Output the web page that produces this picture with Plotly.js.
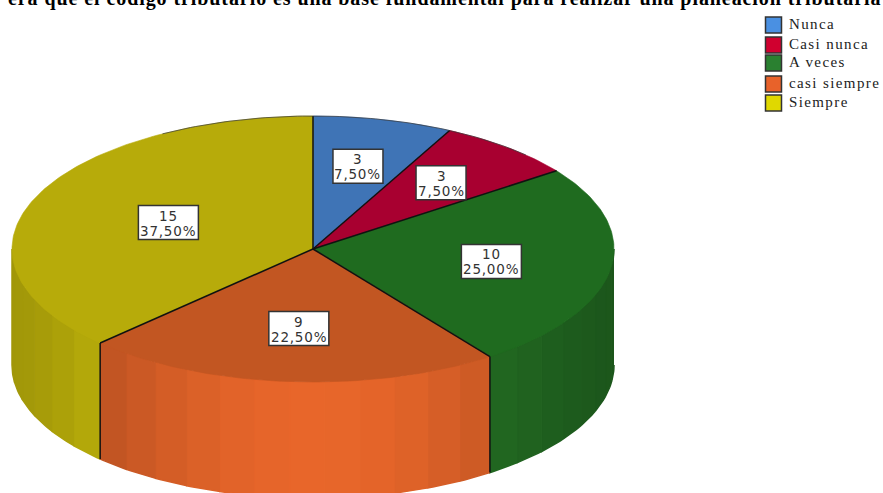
<!DOCTYPE html>
<html><head><meta charset="utf-8">
<script src="https://cdn.plot.ly/plotly-3.0.1.min.js"></script>
<style>html,body{margin:0;padding:0;background:#fff}
.gtitle{letter-spacing:.92px}
.textpoint text{letter-spacing:1.4px}
.annotation-text{letter-spacing:.8px}
</style></head>
<body><div id="chart" style="width:883px;height:493px"></div>
<script>
const categories = ["Nunca","Casi nunca","A veces","casi siempre","Siempre"];
const counts = [3,3,10,9,15];
const percentLabels = ["7,50%","7,50%","25,00%","22,50%","37,50%"];
const topColors = ["#3f74b6","#a80030","#1f6b1f","#c25622","#b7ab0a"];
const sideColors = ["#4a88d0","#c00035","#277826","#e8662a","#e0d20c"];
const legendColors = ["#4a90e2","#d0002f","#2a8030","#e8622a","#e0d800"];
const titleText = "era que el código tributario es una base fundamental para realizar una planeación tributaria";

// pie geometry on a pixel-sized axis
const cx=313, cy=249, rx=301, ry=133, depth=116;
const labelRadius=[.64,.655,.6,.6,.52];
const total=counts.reduce((a,b)=>a+b,0);
const pt=(deg,dy=0,f=1)=>{const r=deg*Math.PI/180;return [cx+rx*f*Math.sin(r),cy-ry*f*Math.cos(r)+dy];};
function arc(a,b,dy=0){const n=Math.max(2,Math.ceil(Math.abs(b-a)));const o=[];for(let i=0;i<=n;i++)o.push(pt(a+(b-a)*i/n,dy));return o;}
const poly=(pts,color,w=.6)=>({type:'scatter',mode:'lines',x:pts.map(p=>p[0]),y:pts.map(p=>p[1]),fill:'toself',fillcolor:color,line:{color:color,width:w},showlegend:false,hoverinfo:'skip'});
const shade=(hex,k)=>{const n=parseInt(hex.slice(1),16);const c=[n>>16,(n>>8)&255,n&255].map(v=>Math.round(v*k));return `rgb(${c.join(',')})`;};

const traces=[],annotations=[],shapes=[];
let start=0;
const slices=counts.map((v,i)=>{const a=start,b=start+v/total*360;start=b;return {a,b,i};});

// front wall, in vertical bands
slices.forEach(s=>{
  const lo=Math.max(s.a,90),hi=Math.min(s.b,270);
  if(hi<=lo) return;
  const step=(hi-lo)/Math.round((hi-lo)/7);
  for(let t=lo;t<hi-1e-6;t+=step){
    const m=t+step/2;
    const k=0.72+0.28*Math.pow(Math.abs(Math.cos(m*Math.PI/180)),3);
    traces.push(poly([...arc(t,t+step),...arc(t+step,t,depth)],shade(sideColors[s.i],k),1.5));
  }
});
// top face
slices.forEach(s=>traces.push(poly([[cx,cy],...arc(s.a,s.b),[cx,cy]],topColors[s.i])));
// edges
const edge=(pts,w,c='#111')=>traces.push({type:'scatter',mode:'lines',x:pts.map(p=>p[0]),y:pts.map(p=>p[1]),line:{color:c,width:w},showlegend:false,hoverinfo:'skip'});
slices.forEach(s=>edge([[cx,cy],pt(s.a)],1.5));
slices.forEach(s=>{ if(s.a>90&&s.a<270) edge([pt(s.a),pt(s.a,depth)],1.5); });
edge(arc(-30,45),.7,'#333');

// value labels
slices.forEach(s=>{
  const [x,y]=pt((s.a+s.b)/2,0,labelRadius[s.i]);
  const w=percentLabels[s.i].length>5?60:50;
  shapes.push({type:'rect',xref:'x',yref:'y',x0:x-w/2,x1:x+w/2,y0:y-17,y1:y+17,fillcolor:'#fff',line:{color:'#333',width:1.5},layer:'above'});
  const common={xref:'x',yref:'y',x:x,showarrow:false,font:{family:'DejaVu Sans',size:13.5,color:'#333'},xanchor:'center',yanchor:'middle'};
  annotations.push({...common,y:y-7,text:String(counts[s.i])});
  annotations.push({...common,y:y+8,text:percentLabels[s.i]});
});

// key
traces.push({type:'scatter',mode:'markers+text',x:categories.map(()=>773.5),y:[25,45,63,84,103],text:categories.map(c=>'\u2009'+c),textposition:'middle right',
  textfont:{family:'Liberation Serif',size:15,color:'#222'},
  marker:{symbol:'square',size:16,color:legendColors,line:{color:'#333',width:1.5}},showlegend:false,hoverinfo:'skip',cliponaxis:false});

Plotly.newPlot('chart',traces,{
  width:883,height:493,margin:{l:0,r:0,t:0,b:0},paper_bgcolor:'#fff',plot_bgcolor:'#fff',showlegend:false,hovermode:false,
  title:{text:'<b>'+titleText+'</b>',x:8/883,xref:'paper',xanchor:'left',y:0.9899,yref:'container',yanchor:'bottom',font:{family:'Liberation Serif',size:20,color:'#000'}},
  xaxis:{range:[0,883],visible:false,fixedrange:true},
  yaxis:{range:[493,0],visible:false,fixedrange:true},
  shapes,annotations
},{displayModeBar:false,staticPlot:true});
</script></body></html>
